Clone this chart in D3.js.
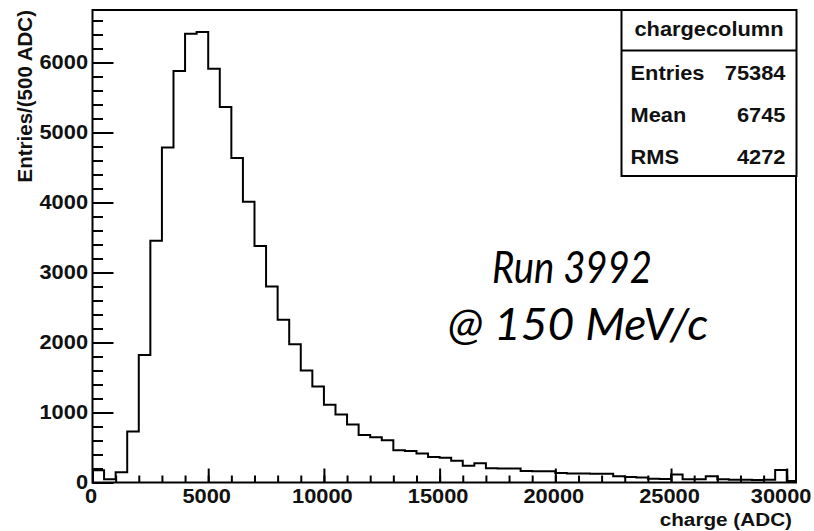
<!DOCTYPE html>
<html>
<head>
<meta charset="utf-8">
<script src="https://cdn.jsdelivr.net/npm/d3@7"></script>
<style>
  body { margin: 0; background: #fff; }
  svg { display: block; }
</style>
</head>
<body>
<svg id="chart" width="814" height="531"></svg>
<script>
// Histogram of collected charge, 500 ADC per bin, starting at 0 ADC.
const binWidth = 500;
const binCounts = [
  175, 45, 145, 730, 1820, 3455, 4785, 5880, 6410, 6435,
  5910, 5365, 4635, 4010, 3380, 2800, 2325, 1975, 1600, 1370,
  1110, 970, 830, 680, 645, 605, 460, 450, 415, 365,
  355, 310, 240, 275, 205, 200, 200, 165, 160, 160,
  135, 130, 130, 125, 125, 90, 80, 70, 55, 50,
  115, 45, 45, 90, 45, 40, 40, 35, 40, 180,
  20
];
const binLowEdges = binCounts.map((_, i) => i * binWidth);

const xMajorTicks = [0, 5000, 10000, 15000, 20000, 25000, 30000];
const xMinorTicks = d3.range(0, 30001, 1000);
const yMajorTicks = [0, 1000, 2000, 3000, 4000, 5000, 6000];
const yMinorTicks = d3.range(0, 6701, 200);

const xTitle = "charge (ADC)";
const yTitle = "Entries/(500 ADC)";
const statsTitle = "chargecolumn";
const statsLabels = ["Entries", "Mean", "RMS"];
const statsValues = ["75384", "6745", "4272"];
const noteLines = ["Run 3992", "@ 150 MeV/c"];

const xDomain = [0, 30400];
const yDomain = [0, 6750];

const W = 814;
const frame = { left: 92.5, right: 796, top: 10, bottom: 482.5 };
const labelFont = "'Liberation Sans', Arial, Helvetica, sans-serif";
const stretch = 1.12;

const svg = d3.select("#chart");

const x = d3.scaleLinear().domain(xDomain).range([frame.left, frame.right]);
const y = d3.scaleLinear().domain(yDomain).range([frame.bottom, frame.top]);

// Clip the histogram to the frame
svg.append("defs").append("clipPath").attr("id", "plotClip")
  .append("rect")
  .attr("x", frame.left).attr("y", frame.top)
  .attr("width", frame.right - frame.left)
  .attr("height", frame.bottom - frame.top);

// Step outline of the histogram
const pts = [[x(binLowEdges[0]), y(0)]];
binCounts.forEach((c, i) => {
  pts.push([x(binLowEdges[i]), y(c)]);
  pts.push([x(binLowEdges[i] + binWidth), y(c)]);
});
pts.push([x(binLowEdges[binLowEdges.length - 1] + binWidth), y(0)]);

svg.append("path")
  .attr("clip-path", "url(#plotClip)")
  .attr("d", d3.line()(pts))
  .attr("fill", "none")
  .attr("stroke", "#000")
  .attr("stroke-width", 2)
  .attr("stroke-linejoin", "miter");

// Axes: minor ticks, then major ticks with labels
function styleAxis(g) {
  g.select(".domain").remove();
  g.selectAll(".tick line").attr("stroke", "#000").attr("stroke-width", 2);
}

svg.append("g")
  .attr("transform", `translate(0,${frame.bottom})`)
  .call(d3.axisBottom(x).tickValues(xMinorTicks).tickSize(-7).tickFormat(""))
  .call(styleAxis);

const xAxisG = svg.append("g")
  .attr("transform", `translate(0,${frame.bottom})`)
  .call(d3.axisBottom(x).tickValues(xMajorTicks).tickSize(-14).tickPadding(7).tickFormat(d3.format("d")))
  .call(styleAxis);

// Keep the last label inside the page
xAxisG.selectAll("text")
  .attr("font-family", labelFont)
  .attr("font-weight", "bold")
  .attr("font-size", 19.5)
  .attr("fill", "#111")
  .each(function (d) {
    const t = d3.select(this);
    const halfW = this.getComputedTextLength() * stretch / 2;
    const cx = x(d) - 2;
    const shift = Math.min(0, (W - 3) - (cx + halfW)) - 2;
    t.attr("transform", `translate(${shift},0) scale(${stretch},1)`);
  });

svg.append("g")
  .attr("transform", `translate(${frame.left},0)`)
  .call(d3.axisLeft(y).tickValues(yMinorTicks).tickSize(-10.5).tickFormat(""))
  .call(styleAxis);

const yAxisG = svg.append("g")
  .attr("transform", `translate(${frame.left},0)`)
  .call(d3.axisLeft(y).tickValues(yMajorTicks).tickSize(-21).tickPadding(4).tickFormat(d3.format("d")))
  .call(styleAxis);

yAxisG.selectAll("text")
  .attr("font-family", labelFont)
  .attr("font-weight", "bold")
  .attr("font-size", 19.5)
  .attr("fill", "#111")
  .attr("transform", `scale(${stretch},1)`);

// Frame
svg.append("rect")
  .attr("x", frame.left).attr("y", frame.top)
  .attr("width", frame.right - frame.left)
  .attr("height", frame.bottom - frame.top)
  .attr("fill", "none")
  .attr("stroke", "#000")
  .attr("stroke-width", 2);

// Helper for horizontally stretched bold labels
function label(px, py, txt, anchor, size) {
  svg.append("text")
    .attr("transform", `translate(${px},${py}) scale(${stretch},1)`)
    .attr("text-anchor", anchor)
    .attr("font-family", labelFont)
    .attr("font-weight", "bold")
    .attr("font-size", size)
    .attr("fill", "#111")
    .text(txt);
}

// Axis titles
label(792, 526, xTitle, "end", 18.5);

svg.append("text")
  .attr("transform", "translate(32,10) rotate(-90)")
  .attr("text-anchor", "end")
  .attr("font-family", labelFont)
  .attr("font-weight", "bold")
  .attr("font-size", 20.5)
  .attr("fill", "#111")
  .text(yTitle);

// Statistics box
const box = { left: 621.5, right: 796.5, top: 10, bottom: 176, divider: 50.5 };
svg.append("rect")
  .attr("x", box.left).attr("y", box.top)
  .attr("width", box.right - box.left)
  .attr("height", box.bottom - box.top)
  .attr("fill", "#fff")
  .attr("stroke", "#000")
  .attr("stroke-width", 2);
svg.append("line")
  .attr("x1", box.left).attr("x2", box.right)
  .attr("y1", box.divider).attr("y2", box.divider)
  .attr("stroke", "#000").attr("stroke-width", 2);

label((box.left + box.right) / 2, 36, statsTitle, "middle", 19.5);
const rowBaselines = [79.5, 121.5, 163.5];
statsLabels.forEach((lab, i) => {
  label(630.5, rowBaselines[i], lab, "start", 19.5);
  label(785.5, rowBaselines[i], statsValues[i], "end", 19.5);
});

// Run annotation
function note(px, py, txt, sx) {
  svg.append("text")
    .attr("transform", `translate(${px},${py}) scale(${sx},1)`)
    .attr("text-anchor", "middle")
    .attr("font-family", "Lato, 'Open Sans', sans-serif")
    .attr("font-style", "italic")
    .attr("font-size", 44)
    .attr("fill", "#000")
    .text(txt);
}
note(572, 283, noteLines[0], 0.87);
note(578, 340, noteLines[1], 1.05);
</script>
</body>
</html>
